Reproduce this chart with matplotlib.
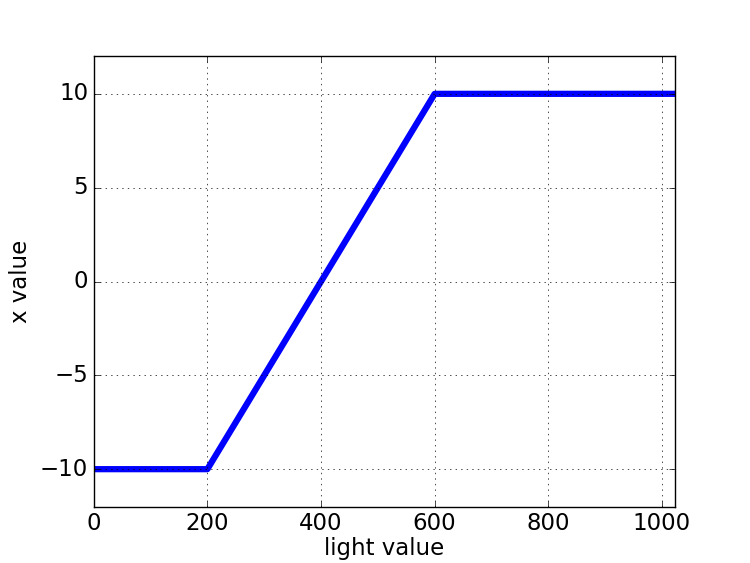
import matplotlib
matplotlib.use("Agg")
import matplotlib.pyplot as plt

light = [0, 200, 600, 1023]
xval = [-10, -10, 10, 10]
xticks = [0, 200, 400, 600, 800, 1000]
yticks = [-10, -5, 0, 5, 10]

plt.style.use('classic')
fig = plt.figure(figsize=(7.5, 5.63), dpi=100, facecolor='white')
ax = fig.add_subplot(111)
fig.subplots_adjust(left=0.125, right=0.9, bottom=0.1, top=0.9)
ax.plot(light, xval, color='blue', lw=4.5)
ax.set_xlim(0, 1023)
ax.set_ylim(-12, 12)
ax.set_xticks(xticks)
ax.set_yticks(yticks)
ax.grid(True)
ax.set_xlabel('light value', fontsize=16.5, labelpad=1)
ax.set_ylabel('x value', fontsize=16.5, labelpad=6)
ax.tick_params(labelsize=16.5)
fig.savefig('out.png', dpi=100, facecolor='white')
